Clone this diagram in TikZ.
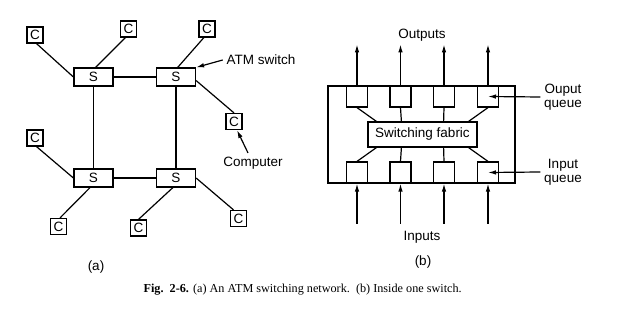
\documentclass[tikz,border=0pt]{standalone}
\usepackage{fontspec}
\setmainfont{Liberation Serif}
\setsansfont{Liberation Sans}
\usetikzlibrary{arrows.meta,calc}
\begin{document}
\begin{tikzpicture}[x=1pt,y=-1pt,line width=1.2pt,
  font=\sffamily\fontsize{13.5}{14}\selectfont,
  comp/.style={draw,minimum size=16pt,inner sep=0pt},
  sw/.style={draw,minimum width=39pt,minimum height=18pt,inner sep=0pt},
  queue/.style={draw,minimum size=21pt,inner sep=0pt},
  arr/.style={-{Latex[length=8pt,width=4.5pt]}}]
\useasboundingbox (0,0) rectangle (619,315);
% (a) the network
\node[sw] (s1) at (93.5,77) {S};
\node[sw] (s2) at (176,77) {S};
\node[sw] (s3) at (93.5,178) {S};
\node[sw] (s4) at (176,178) {S};
\node[comp] (c1) at (35,35) {C};
\node[comp] (c2) at (128.5,29) {C};
\node[comp] (c3) at (207,29) {C};
\node[comp] (c4) at (35,138) {C};
\node[comp] (c5) at (234,121.5) {C};
\node[comp] (c6) at (58.5,226.5) {C};
\node[comp] (c7) at (138.5,228) {C};
\node[comp] (c8) at (238.5,218.5) {C};
\draw (s1)--(s2);
\draw (s1)--(s3);
\draw (s2)--(s4);
\draw (s3)--(s4);
\draw (c1.-80)--(s1.west);
\draw (c2.-110)--(s1.78);
\draw (c3.-110)--(s2.80);
\draw (s2.-10)--(c5.north);
\draw (c4.-80)--(s3.west);
\draw (s3.-110)--(c6.80);
\draw (s4.-108)--(c7.north);
\draw (s4.east)--(c8.120);
\node (atm) at (261,60) {ATM switch};
\node (cptr) at (253,163) {Computer};
\draw[arr] (atm.west)--(s2.north east);
\draw[arr] ([xshift=-5pt]cptr.north)--([xshift=3pt]c5.south);
\node (lbla) at (96,267) {(a)};
% (b) inside one switch
\node[draw,minimum width=187pt,minimum height=97pt] (box) at (421.5,134.5) {};
\node[draw,minimum width=109pt,minimum height=25pt,inner sep=0pt] (fab) at (422.5,134.5) {Switching fabric};
\node[queue] (o1) at (357,96.5) {};
\node[queue] (o2) at (400.5,96.5) {};
\node[queue] (o3) at (444,96.5) {};
\node[queue] (o4) at (488,96.5) {};
\node[queue] (i1) at (357,172.5) {};
\node[queue] (i2) at (400.5,172.5) {};
\node[queue] (i3) at (444,172.5) {};
\node[queue] (i4) at (488,172.5) {};
\draw (o1.south)--($(fab.north west)+(9,0)$);
\draw (o2.south)--($(fab.north west)+(34,0)$);
\draw (o3.south)--($(fab.north east)+(-34,0)$);
\draw (o4.south)--($(fab.north east)+(-9,0)$);
\draw (i1.north)--($(fab.south west)+(9,0)$);
\draw (i2.north)--($(fab.south west)+(34,0)$);
\draw (i3.north)--($(fab.south east)+(-34,0)$);
\draw (i4.north)--($(fab.south east)+(-9,0)$);
\draw[arr] (o1.north)--++(0,-41);
\draw[arr] (o2.north)--++(0,-41);
\draw[arr] (o3.north)--++(0,-41);
\draw[arr] (o4.north)--++(0,-41);
\draw[arr] ([yshift=-40pt]i1.south)--(i1.south);
\draw[arr] ([yshift=-40pt]i2.south)--(i2.south);
\draw[arr] ([yshift=-40pt]i3.south)--(i3.south);
\draw[arr] ([yshift=-40pt]i4.south)--(i4.south);
\node (outl) at (422,35) {Outputs};
\node (inl) at (422,237) {Inputs};
\node[align=center] (oq) at (563,97) {Ouput\\queue};
\node[align=center] (iq) at (563,172) {Input\\queue};
\draw[arr] (oq.west)--(o4.center);
\draw[arr] (iq.west)--(i4.center);
\node (lblb) at (423,262) {(b)};
% caption
\node[anchor=base west,inner sep=0pt,font=\rmfamily\fontsize{12.2}{14}\selectfont] (cap) at (143,293)
  {\textbf{Fig.\ \ 2-6.} (a) An ATM switching network.\ \ (b) Inside one switch.};
\end{tikzpicture}
\end{document}
